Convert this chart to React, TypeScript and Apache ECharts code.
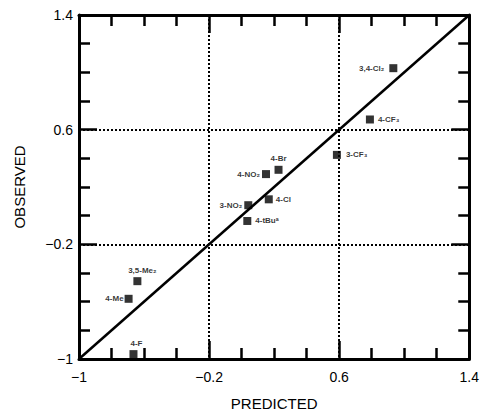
import React, { useEffect, useRef } from 'react';
import * as echarts from 'echarts';

// Axis range (data units) and major step
const AXIS_MIN = -1;
const AXIS_MAX = 1.4;
const MAJOR_STEP = 0.8;
const MINOR_SPLITS = 4;
const tickLabels = ['−1', '−0.2', '0.6', '1.4'];

// Substituents with predicted / observed values
const substituents = ['4-NO₂', '4-Br', '4-Cl', '3-NO₂', '4-tBuᵃ', '3-CF₃', '3,4-Cl₂', '4-CF₃', '3,5-Me₂', '4-Me', '4-F'];
const predicted = [0.15, 0.227, 0.167, 0.041, 0.035, 0.586, 0.933, 0.789, -0.641, -0.695, -0.665];
const observed = [0.29, 0.32, 0.114, 0.073, -0.037, 0.424, 1.029, 0.671, -0.457, -0.58, -0.966];

// identity line y = x
const identityLine = [[-1, -1], [1.4, 1.4]];

// label placement (style only)
const labelPlacement: any[] = [
  { position: 'left', distance: 2 },
  { position: 'top', distance: 3 },
  { position: 'right', distance: 3 },
  { position: 'left', distance: 2 },
  { position: 'right', distance: 4 },
  { position: 'right', distance: 5 },
  { position: 'left', distance: 5 },
  { position: 'right', distance: 4 },
  { position: 'top', distance: 3, offset: [5, 0] },
  { position: 'left', distance: 1 },
  { position: 'top', distance: 3, offset: [3, 0] },
];

const FONT = '"Liberation Sans", Arial, Helvetica, sans-serif';
const toAxis = (v: number) => +(v - AXIS_MIN).toFixed(6);
const SPAN = +(AXIS_MAX - AXIS_MIN).toFixed(6);

export default function App() {
  const ref = useRef<HTMLDivElement>(null);

  useEffect(() => {
    document.body.style.margin = '0';
    if (!ref.current) return;
    const chart = echarts.init(ref.current, undefined, { renderer: 'svg' });

    const axisCommon = (labels: boolean, isMain: boolean) => ({
      type: 'value',
      min: 0,
      max: SPAN,
      interval: MAJOR_STEP,
      axisLine: { show: true, onZero: false, lineStyle: { color: '#000', width: 3 } },
      axisTick: { show: true, inside: true, length: 18, lineStyle: { color: '#000', width: 2.5 } },
      minorTick: { show: true, splitNumber: MINOR_SPLITS, length: 11, lineStyle: { color: '#000', width: 2.5 } },
      axisLabel: labels
        ? {
            show: true,
            formatter: (_v: number, i: number) => tickLabels[i] ?? '',
            fontSize: 14,
            color: '#000',
            fontFamily: FONT,
            showMinLabel: true,
            showMaxLabel: true,
          }
        : { show: false },
      splitLine: isMain
        ? { show: true, lineStyle: { color: '#000', width: 2, type: [2, 2] } }
        : { show: false },
      minorSplitLine: { show: false },
    });

    const scatterData = substituents.map((name, i) => ({
      name,
      value: [toAxis(predicted[i]), toAxis(observed[i])],
      label: {
        show: true,
        formatter: name,
        position: labelPlacement[i].position,
        distance: labelPlacement[i].distance,
        offset: labelPlacement[i].offset || [0, 0],
        fontSize: 8,
        fontWeight: 'bold',
        fontFamily: FONT,
        color: '#000',
      },
    }));

    chart.setOption({
      animation: false,
      backgroundColor: '#fff',
      grid: { left: 79, right: 2, top: 15, bottom: 52, containLabel: false },
      xAxis: [
        {
          ...axisCommon(true, true),
          position: 'bottom',
          axisLabel: { ...(axisCommon(true, true).axisLabel as any), margin: 11 },
          name: 'PREDICTED',
          nameLocation: 'middle',
          nameGap: 37,
          nameTextStyle: { fontSize: 15, color: '#000', fontFamily: FONT },
        },
        { ...axisCommon(false, false), position: 'top' },
      ],
      yAxis: [
        {
          ...axisCommon(true, true),
          position: 'left',
          axisLabel: { ...(axisCommon(true, true).axisLabel as any), margin: 6 },
          name: 'OBSERVED',
          nameLocation: 'middle',
          nameGap: 52,
          nameTextStyle: { fontSize: 15, color: '#000', fontFamily: FONT },
        },
        { ...axisCommon(false, false), position: 'right' },
      ],
      series: [
        {
          type: 'line',
          xAxisIndex: 0,
          yAxisIndex: 0,
          data: identityLine.map(([x, y]) => [toAxis(x), toAxis(y)]),
          symbol: 'none',
          lineStyle: { color: '#000', width: 2.5 },
          z: 2,
          silent: true,
        },
        {
          type: 'scatter',
          xAxisIndex: 0,
          yAxisIndex: 0,
          symbol: 'rect',
          symbolSize: 8,
          clip: false,
          itemStyle: { color: '#000' },
          data: scatterData,
          z: 3,
        },
      ],
    });

    return () => chart.dispose();
  }, []);

  return (
    <div
      ref={ref}
      style={{ position: 'absolute', left: 0, top: 0, width: 482, height: 416, background: '#fff' }}
    />
  );
}
